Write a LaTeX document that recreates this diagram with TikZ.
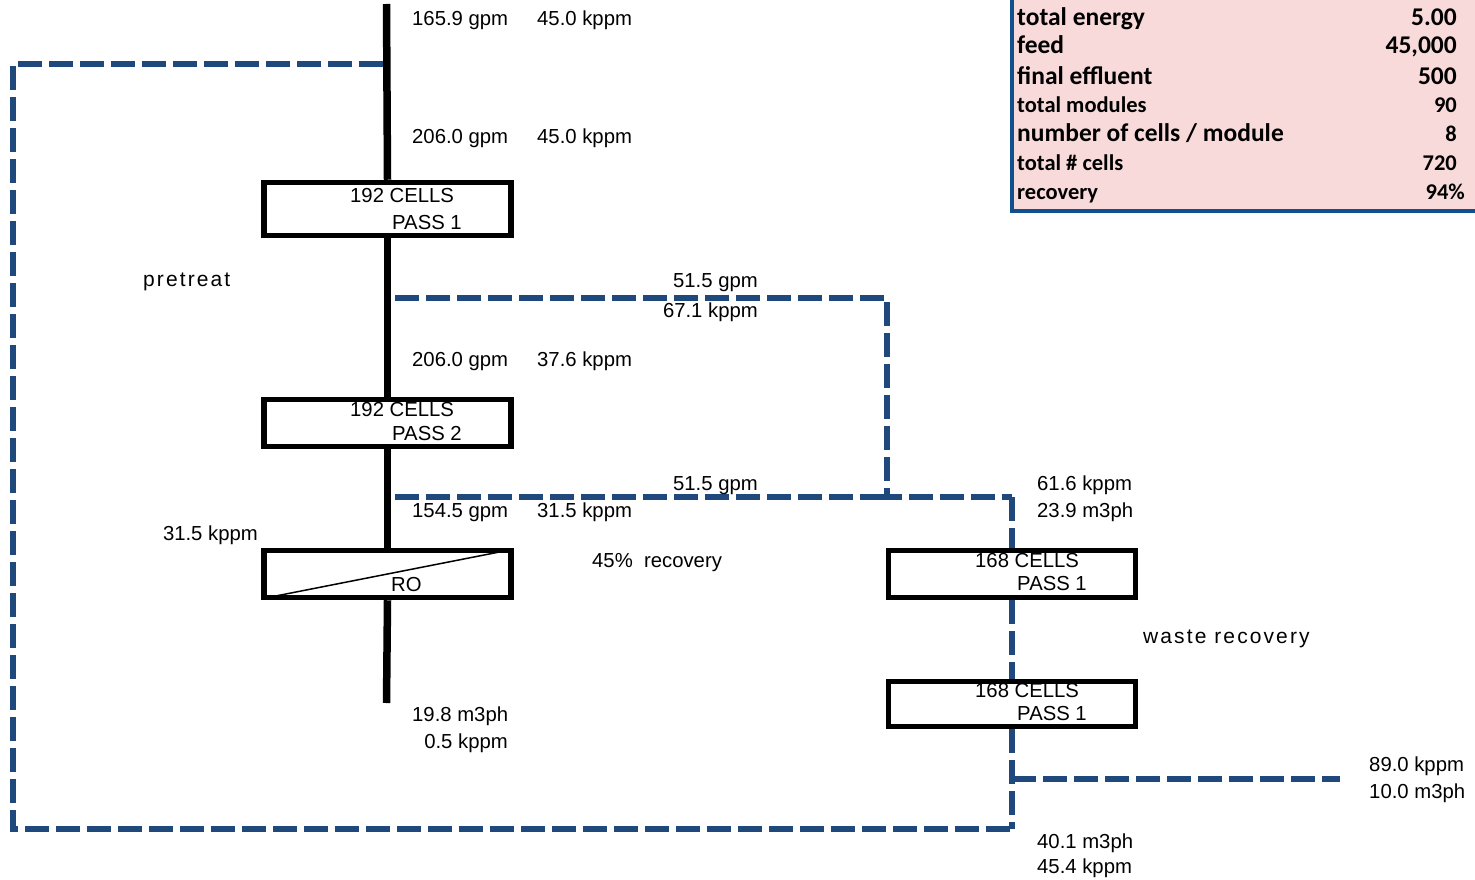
\documentclass[tikz,border=0pt]{standalone}
\usepackage{fontspec}
\setmainfont{Liberation Sans}
\newfontfamily\tabfont{Carlito}[BoldFont={Carlito Bold}]
\newfontfamily\spacedfont[LetterSpace=10]{Liberation Sans}
\definecolor{dblue}{RGB}{31,73,125}
\definecolor{tblue}{RGB}{17,80,142}
\definecolor{pinkbg}{RGB}{249,218,218}
\begin{document}
\begin{tikzpicture}[x=1pt,y=-1pt,
  lbl/.style={font=\fontsize{20.3}{24}\selectfont, inner sep=0, anchor=base west},
  lblr/.style={lbl, anchor=base east},
  spaced/.style={font=\spacedfont\fontsize{21}{25}\selectfont, inner sep=0, anchor=base west},
  cellbox/.style={draw=black, line width=5.5pt, fill=white, rectangle, inner sep=0, minimum width=247pt},
  mainline/.style={line width=7.5pt, black},
  flow/.style={dblue, line width=5.5pt, dash pattern=on 24pt off 7pt},
  tbig/.style={font=\tabfont\bfseries\fontsize{25.5}{28}\selectfont, inner sep=0, anchor=base west},
  tsmall/.style={font=\tabfont\bfseries\fontsize{22.5}{26}\selectfont, inner sep=0, anchor=base west},
  tbigr/.style={tbig, anchor=base east},
  tsmallr/.style={tsmall, anchor=base east}]
\useasboundingbox (0,0) rectangle (1475,880);

% table
\fill[pinkbg] (1012,0) rectangle (1475,211);
\draw[tblue, line width=4pt] (1012,0) -- (1012,211) -- (1475,211);
\node[tbig] (t1) at (1017,26) {total energy};
\node[tbigr] (v1) at (1457,26) {5.00};
\node[tbig] (t2) at (1017,54) {feed};
\node[tbigr] (v2) at (1457,54) {45,000};
\node[tbig] (t3) at (1017,85) {final effluent};
\node[tbigr] (v3) at (1457,85) {500};
\node[tsmall] (t4) at (1017,113) {total modules};
\node[tsmallr] (v4) at (1457,113) {90};
\node[tbig] (t5) at (1017,142) {number of cells / module};
\node[tsmallr] (v5) at (1457,142) {8};
\node[tsmall] (t6) at (1017,170) {total \# cells};
\node[tsmallr] (v6) at (1457,170) {720};
\node[tsmall] (t7) at (1017,199) {recovery};
\node[tsmallr] (v7) at (1465,199) {94\%};

% coordinates
\coordinate (top) at (386.5,4);
\coordinate (bot) at (386.5,703);
\coordinate (loopa) at (383,64);
\coordinate (loopb) at (13,64);
\coordinate (loopc) at (13,829);
\coordinate (loopd) at (1012,829);
\coordinate (brA) at (395,298);
\coordinate (brB) at (887,298);
\coordinate (brC) at (887,497);
\coordinate (brD) at (395,497);
\coordinate (wtop) at (1012,497);
\coordinate (wout) at (1012,779);
\coordinate (wend) at (1340,779);

% boxes
\node[cellbox, minimum height=53pt] (b1) at (387.5,209) {};
\node[cellbox, minimum height=47pt] (b2) at (387.5,423) {};
\node[cellbox, minimum height=47pt] (ro) at (387.5,574) {};
\node[cellbox, minimum height=47pt] (w1) at (1012,574) {};
\node[cellbox, minimum height=45pt] (w2) at (1012,704) {};

% dashed flows
\draw[flow] (loopa) -- (loopb) -- (loopc) -- (loopd);
\draw[flow] (brA) -- (brB) -- (brC) -- (wtop);
\draw[flow] (brD) -- (brC);
\draw[flow] (wtop) -- (w1.north);
\draw[flow] (w1.south) -- (w2.north);
\draw[flow] (w2.south) -- (loopd);
\draw[flow] (wout) -- (wend);

% main line
\draw[mainline] (top) -- (b1.north);
\draw[mainline] (b1.south) -- (b2.north);
\draw[mainline] (b2.south) -- (ro.north);
\draw[mainline] (ro.south) -- (bot);

% RO diagonal
\draw[line width=1.5pt] ([xshift=3pt,yshift=2pt]ro.south west) -- ([xshift=-3pt,yshift=-2pt]ro.north east);

% box texts
\node[lbl] (b1a) at (350,202) {192 CELLS};
\node[lbl] (b1b) at (392,229) {PASS 1};
\node[lbl] (b2a) at (350,416) {192 CELLS};
\node[lbl] (b2b) at (392,440) {PASS 2};
\node[lbl] (roa) at (391,591) {RO};
\node[lbl] (w1a) at (975,567) {168 CELLS};
\node[lbl] (w1b) at (1017,590) {PASS 1};
\node[lbl] (w2a) at (975,697) {168 CELLS};
\node[lbl] (w2b) at (1017,720) {PASS 1};

% flow labels
\node[lbl] (l1) at (412,26) {165.9 gpm};
\node[lbl] (l2) at (537,26) {45.0 kppm};
\node[lbl] (l3) at (412,143) {206.0 gpm};
\node[lbl] (l4) at (537,143) {45.0 kppm};
\node[lblr] (l5) at (758,287) {51.5 gpm};
\node[lblr] (l6) at (758,317) {67.1 kppm};
\node[lbl] (l7) at (412,366) {206.0 gpm};
\node[lbl] (l8) at (537,366) {37.6 kppm};
\node[lblr] (l9) at (758,490) {51.5 gpm};
\node[lbl] (l10) at (412,517) {154.5 gpm};
\node[lbl] (l11) at (537,517) {31.5 kppm};
\node[lbl] (l12) at (1037,490) {61.6 kppm};
\node[lbl] (l13) at (1037,517) {23.9 m3ph};
\node[lblr] (l14) at (258,540) {31.5 kppm};
\node[lbl] (l15) at (592,567) {45\%~ recovery};
\node[lbl] (l16) at (412,721) {19.8 m3ph};
\node[lblr] (l17) at (508,748) {0.5 kppm};
\node[lbl] (l18) at (1369,771) {89.0 kppm};
\node[lbl] (l19) at (1369,798) {10.0 m3ph};
\node[lbl] (l20) at (1037,848) {40.1 m3ph};
\node[lbl] (l21) at (1037,873) {45.4 kppm};

\node[spaced] (pre) at (143,286) {pretreat};
\node[spaced] (wr) at (1143,643) {waste recovery};
\end{tikzpicture}
\end{document}
